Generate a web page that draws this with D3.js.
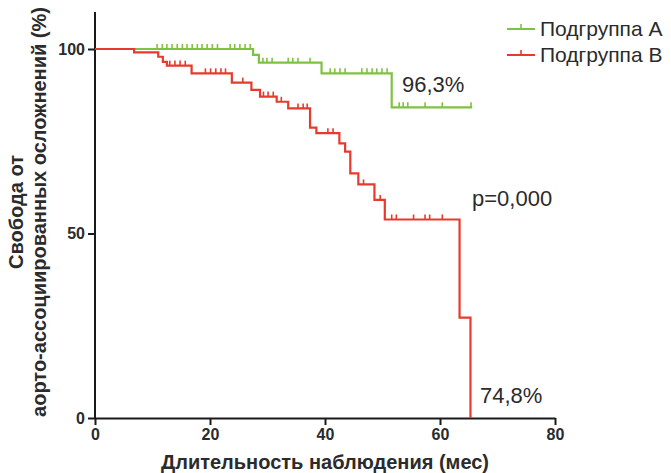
<!DOCTYPE html>
<html>
<head>
<meta charset="utf-8">
<script src="https://cdn.jsdelivr.net/npm/d3@7"></script>
<style>
  body { margin: 0; background: #fff; }
  svg { font-family: "Liberation Sans", Arial, sans-serif; }
</style>
</head>
<body>
<div id="main"></div>
<script>
const cte = {
  w: 671,
  h: 473,
  green: "#7fc241",
  red: "#e63b2c",
  text: "#2b2b2b"
};

// Kaplan-Meier steps (months, % survival)
const groupATimes = [0, 27.5, 28.5, 39.4, 51.6, 65.6];
const groupASurv  = [100, 98.4, 96.3, 93.4, 84.2, 84.2];
const groupACensor = [10.8, 11.7, 12.5, 13.4, 14.3, 15.2, 16.0, 16.9, 17.8, 18.6, 19.5, 20.4, 21.3,
  23.5, 24.3, 25.2, 26.1, 27.0,
  29.2, 29.9, 30.8, 33.6, 34.4, 35.3, 37.4,
  40.9, 41.7, 42.6, 43.5, 46.4, 47.3, 48.2, 49.0, 49.9, 50.8,
  52.9, 53.6, 54.4, 57.4, 60.4, 65.4];

const groupBTimes = [0, 6.8, 11.0, 11.8, 12.5, 16.8, 23.8, 27.2, 28.7, 31.6, 33.6, 37.4, 38.5,
  42.5, 43.5, 44.4, 45.8, 48.6, 50.4, 63.4, 65.3];
const groupBSurv  = [100, 99.1, 97.9, 96.5, 95.5, 93.4, 90.9, 88.9, 87.1, 85.7, 83.9, 78.7, 77.2,
  74.4, 72.2, 66.3, 63.3, 59.1, 53.8, 27.2, 0];
const groupBCensor = [13.0, 13.9, 14.8, 15.7,
  19.2, 20.1, 21.0, 21.9, 22.7, 25.7,
  29.3, 30.1, 31.0, 32.4, 35.3, 36.2, 36.9,
  40.5, 41.4, 46.7, 49.6,
  51.6, 52.4, 55.4, 57.4, 58.2, 60.4];

const xTicks = [0, 20, 40, 60, 80];
const yTicks = [0, 50, 100];
const legendLabels = ["Подгруппа A", "Подгруппа B"];

const margin = { top: 12, left: 95, right: 116, bottom: 55 };

const x = d3.scaleLinear().domain([0, 80]).range([margin.left, cte.w - margin.right]);
const y = d3.scaleLinear().domain([0, 100]).range([cte.h - margin.bottom, 49]);

function survAt(times, surv, t) {
  let v = surv[0];
  for (let i = 0; i < times.length; i++) {
    if (times[i] <= t) v = surv[i];
  }
  return v;
}

const svg = d3.select("#main").append("svg")
  .attr("width", cte.w)
  .attr("height", cte.h);

// axes
const xAxis = svg.append("g")
  .attr("transform", `translate(0, ${y(0)})`)
  .call(d3.axisBottom(x).tickValues(xTicks).tickSize(7).tickPadding(4).tickSizeOuter(0));

const yAxis = svg.append("g")
  .attr("transform", `translate(${x(0)}, 0)`)
  .call(d3.axisLeft(y).tickValues(yTicks).tickSize(7).tickPadding(3).tickSizeOuter(0));

yAxis.select(".domain").attr("d", `M0,${y(0)}V${margin.top}`);

svg.selectAll(".domain, .tick line")
  .attr("stroke", "#1a1a1a")
  .attr("stroke-width", 2);

svg.selectAll(".tick text")
  .attr("fill", cte.text)
  .style("font-size", "16px")
  .style("font-weight", "bold");

// curves
function drawGroup(times, surv, censor, color) {
  const line = d3.line()
    .curve(d3.curveStepAfter)
    .x(d => x(d[0]))
    .y(d => y(d[1]));

  svg.append("path")
    .datum(times.map((t, i) => [t, surv[i]]))
    .attr("d", line)
    .attr("fill", "none")
    .attr("stroke", color)
    .attr("stroke-width", 2.2);

  svg.append("g").selectAll("line")
    .data(censor)
    .join("line")
    .attr("x1", d => x(d))
    .attr("x2", d => x(d))
    .attr("y1", d => y(survAt(times, surv, d)))
    .attr("y2", d => y(survAt(times, surv, d)) - 5)
    .attr("stroke", color)
    .attr("stroke-width", 1.6);
}

drawGroup(groupATimes, groupASurv, groupACensor, cte.green);
drawGroup(groupBTimes, groupBSurv, groupBCensor, cte.red);

// annotations
svg.append("text")
  .attr("x", 402).attr("y", 92)
  .style("font-size", "22px")
  .attr("fill", cte.text)
  .text("96,3%");

svg.append("text")
  .attr("x", 472).attr("y", 206)
  .style("font-size", "22px")
  .attr("fill", cte.text)
  .text("p=0,000");

svg.append("text")
  .attr("x", 480).attr("y", 403)
  .style("font-size", "22px")
  .attr("fill", cte.text)
  .text("74,8%");

// legend
const legend = svg.append("g").attr("transform", "translate(507, 29)");
[cte.green, cte.red].forEach((c, i) => {
  const g = legend.append("g").attr("transform", `translate(0, ${i * 26})`);
  g.append("line").attr("x1", 0).attr("x2", 28).attr("y1", 0).attr("y2", 0)
    .attr("stroke", c).attr("stroke-width", 2);
  g.append("line").attr("x1", 14).attr("x2", 14).attr("y1", 0).attr("y2", -5)
    .attr("stroke", c).attr("stroke-width", 1.6);
  g.append("text").attr("x", 33).attr("y", 0).attr("dy", "0.35em")
    .style("font-size", "21px")
    .attr("fill", cte.text)
    .text(legendLabels[i]);
});

// axis titles
svg.append("text")
  .attr("x", (x(0) + x(80)) / 2)
  .attr("y", 469)
  .attr("text-anchor", "middle")
  .style("font-size", "20px")
  .style("font-weight", "bold")
  .attr("fill", cte.text)
  .text("Длительность наблюдения (мес)");

const yTitle = svg.append("text")
  .attr("transform", "translate(0, 212) rotate(-90)")
  .attr("text-anchor", "middle")
  .style("font-size", "20px")
  .style("font-weight", "bold")
  .attr("fill", cte.text);
yTitle.append("tspan").attr("x", 0).attr("y", 23).text("Свобода от");
yTitle.append("tspan").attr("x", 0).attr("y", 46).text("аорто-ассоциированных осложнений (%)");
</script>
</body>
</html>
